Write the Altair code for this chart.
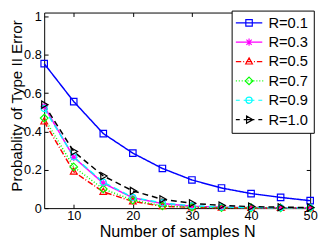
import altair as alt
import pandas as pd

# ---- data ----
N = [5, 10, 15, 20, 25, 30, 35, 40, 45, 50]
series = ["R=0.1", "R=0.3", "R=0.5", "R=0.7", "R=0.9", "R=1.0"]
p_r01 = [0.754, 0.556, 0.389, 0.287, 0.207, 0.147, 0.105, 0.076, 0.056, 0.039]
p_r03 = [0.531, 0.265, 0.130, 0.054, 0.024, 0.010, 0.005, 0.003, 0.002, 0.001]
p_r05 = [0.452, 0.190, 0.085, 0.035, 0.010, 0.004, 0.002, 0.001, 0.001, 0.000]
p_r07 = [0.470, 0.215, 0.100, 0.042, 0.012, 0.005, 0.003, 0.002, 0.001, 0.001]
p_r09 = [0.520, 0.268, 0.135, 0.056, 0.027, 0.012, 0.006, 0.003, 0.002, 0.001]
p_r10 = [0.540, 0.295, 0.168, 0.090, 0.046, 0.025, 0.014, 0.008, 0.005, 0.003]
x_ticks = [10, 20, 30, 40, 50]
y_ticks = [0, 0.2, 0.4, 0.6, 0.8, 1]
x_title = "Number of samples N"
y_title = "Probablity of Type II Error"

values = [p_r01, p_r03, p_r05, p_r07, p_r09, p_r10]
rows = []
for name, vals in zip(series, values):
    for n, p in zip(N, vals):
        rows.append({"N": n, "P": p, "R": name})
df = pd.DataFrame(rows)

# ---- styles ----
FONT = "Liberation Sans"
W, H = 272, 200
colors = ["#0000ff", "#ff00ff", "#ff0000", "#00ff00", "#00ffff", "#000000"]
dashes = [[1, 0], [1, 0], [6, 2, 1, 2], [1, 2], [6, 4], [6, 4]]
kinds = ["square", "star", "tri-up", "diamond", "circle", "tri-right"]


def r(v):
    return f"{round(v, 3):g}"


def marker(kind, k):
    if kind == "square":
        a = 1.1 * k
        return f"M{r(-a)},{r(-a)}H{r(a)}V{r(a)}H{r(-a)}Z"
    if kind == "star":
        a, b = 1.25 * k, 0.9 * k
        return (f"M0,{r(-a)}V{r(a)}M{r(-a)},0H{r(a)}"
                f"M{r(-b)},{r(-b)}L{r(b)},{r(b)}M{r(-b)},{r(b)}L{r(b)},{r(-b)}")
    if kind == "tri-up":
        return f"M0,{r(-1.25*k)}L{r(1.15*k)},{r(0.85*k)}H{r(-1.15*k)}Z"
    if kind == "diamond":
        a = 1.3 * k
        return f"M0,{r(-a)}L{r(a)},0L0,{r(a)}L{r(-a)},0Z"
    if kind == "circle":
        a = 1.05 * k
        return f"M{r(a)},0A{r(a)},{r(a)},0,1,1,{r(-a)},0A{r(a)},{r(a)},0,1,1,{r(a)},0Z"
    if kind == "tri-right":
        return f"M{r(-0.85*k)},{r(-1.2*k)}L{r(1.3*k)},0L{r(-0.85*k)},{r(1.2*k)}Z"


# legend line patterns, in px spans along a 27px sample line
half = 13.5
dotted = [(-13.5 + 3 * i, -12.5 + 3 * i) for i in range(10)]
patterns = [
    [(-half, half)],
    [(-half, half)],
    [(-half, -8), (-6, -5), (-3, 3), (5, 6), (8, half)],
    dotted,
    [(-half, -9.5), (-5.5, 5.5), (9.5, half)],
    [(-half, -9.5), (-5.5, 5.5), (9.5, half)],
]
LEG_UNIT = 6.5  # px per path unit with symbolSize 169
legend_paths = []
for kind, pat in zip(kinds, patterns):
    segs = "".join(f"M{r(a / LEG_UNIT)},0H{r(b / LEG_UNIT)}" for a, b in pat)
    legend_paths.append(segs + marker(kind, 3 / LEG_UNIT))
plot_paths = [marker(kind, 1) for kind in kinds]

xs = alt.Scale(domain=[5, 50], nice=False, zero=False)
ys = alt.Scale(domain=[0, 1.0204], nice=False, zero=False)

common_axis = dict(grid=False, domain=False, tickColor="black", tickWidth=1)

ax1x = alt.Axis(orient="bottom", values=x_ticks, tickSize=0, labelPadding=2, format="d",
                labelFlush=False, title=x_title, titleY=29, titleBaseline="alphabetic",
                **common_axis)
ax1y = alt.Axis(orient="left", values=y_ticks, tickSize=0, labelPadding=3, format="~g",
                title=y_title, titleX=-23, titleY=95, titleBaseline="alphabetic",
                titleFontSize=15.5, **common_axis)
ax2x = alt.Axis(orient="top", offset=-H, values=x_ticks, tickSize=4, labels=False,
                title=None, **common_axis)
ax2y = alt.Axis(orient="right", offset=-W, values=y_ticks, tickSize=4, labels=False,
                title=None, **common_axis)
ax3x = alt.Axis(orient="bottom", offset=-H, values=x_ticks, tickSize=4, labels=False,
                title=None, **common_axis)
ax3y = alt.Axis(orient="left", offset=-W, values=y_ticks, tickSize=4, labels=False,
                title=None, **common_axis)

leg = alt.Legend(
    title=None, orient="none", legendX=191.7, legendY=-2,
    strokeColor="black", fillColor="white", cornerRadius=0, padding=5,
    rowPadding=3.8, labelFont=FONT, labelFontSize=15, labelColor="black",
    symbolSize=169, symbolStrokeWidth=1.2, symbolOffset=5.3, labelOffset=12.3,
    symbolFillColor="transparent", symbolOpacity=1,
)

base = alt.Chart(df)

lines = base.mark_line(strokeWidth=1.5).encode(
    x=alt.X("N:Q", scale=xs, axis=ax1x),
    y=alt.Y("P:Q", scale=ys, axis=ax1y),
    color=alt.Color("R:N", scale=alt.Scale(domain=series, range=colors), legend=None),
    strokeDash=alt.StrokeDash("R:N", scale=alt.Scale(domain=series, range=dashes), legend=None),
)

points = base.mark_point(size=36, filled=False, strokeWidth=1.2, opacity=1).encode(
    x=alt.X("N:Q", scale=xs, axis=ax2x),
    y=alt.Y("P:Q", scale=ys, axis=ax2y),
    color=alt.Color("R:N", scale=alt.Scale(domain=series, range=colors), legend=None),
    shape=alt.Shape("R:N", scale=alt.Scale(domain=series, range=plot_paths), legend=None),
)

legend_layer = base.transform_filter("false").mark_point(filled=False, strokeWidth=1.2).encode(
    x=alt.X("N:Q", scale=xs, axis=ax3x),
    y=alt.Y("P:Q", scale=ys, axis=ax3y),
    color=alt.Color("R:N", scale=alt.Scale(domain=series, range=colors), legend=leg),
    shape=alt.Shape("R:N", scale=alt.Scale(domain=series, range=legend_paths), legend=leg),
)

chart = (
    alt.layer(lines, points, legend_layer)
    .resolve_scale(color="independent", shape="independent", strokeDash="independent")
    .resolve_axis(x="independent", y="independent")
    .properties(
        width=W, height=H,
        autosize=alt.AutoSizeParams(type="none"),
        padding={"left": 37, "top": 2, "right": 8, "bottom": 33},
        background="white",
    )
    .configure_view(stroke="black", strokeWidth=1)
    .configure_axis(labelFont=FONT, labelFontSize=13, labelColor="black",
                    titleFont=FONT, titleFontSize=16.5, titleFontWeight="normal",
                    titleColor="black")
)

chart.save("out.html", embed_options={"renderer": "svg", "actions": False})
